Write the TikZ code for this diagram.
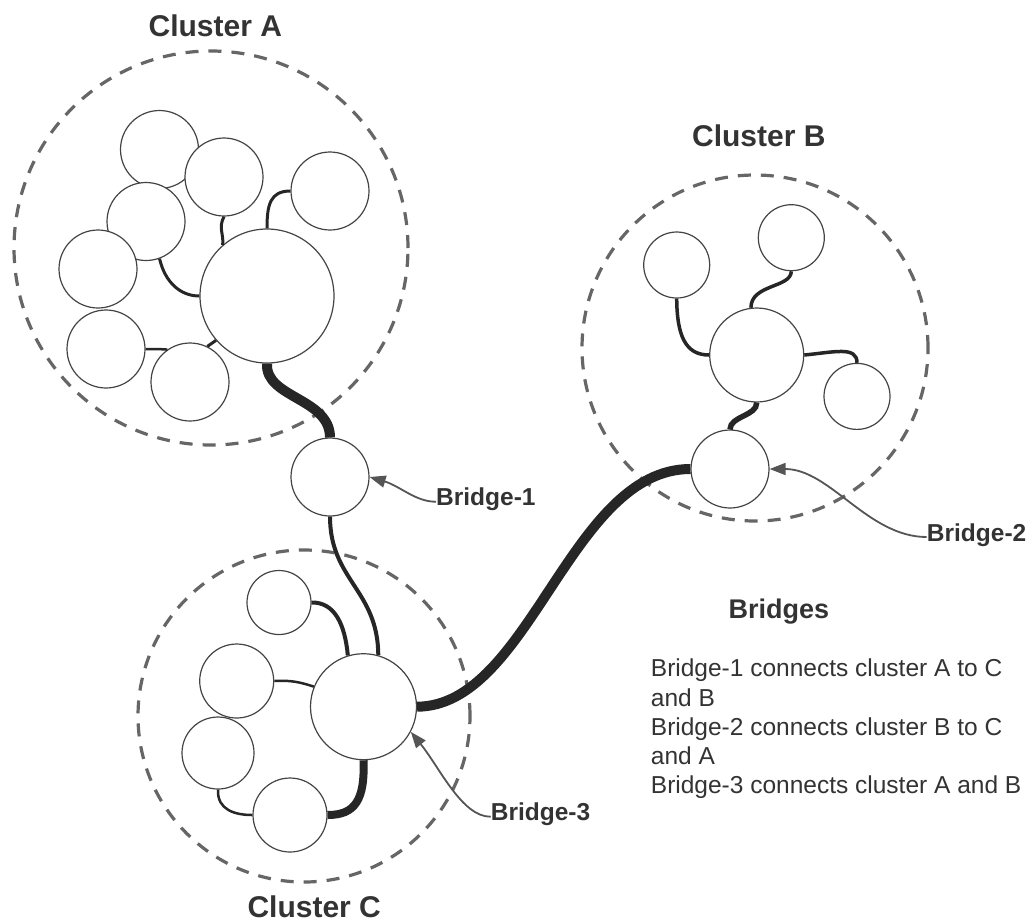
\documentclass[tikz,border=0pt]{standalone}
\usepackage{fontspec}
\setmainfont{Liberation Sans}
\usetikzlibrary{arrows.meta}
\definecolor{ink}{HTML}{333333}
\definecolor{dashgray}{HTML}{666666}
\definecolor{ringgray}{HTML}{444444}
\definecolor{linkcol}{HTML}{262626}
\definecolor{arrowgray}{HTML}{555555}
\begin{document}
\begin{tikzpicture}[x=1pt,y=-1pt,
  clusterring/.style={circle, draw=dashgray, line width=3.2pt, dash pattern=on 13pt off 10pt, inner sep=0pt, minimum size=#1},
  member/.style={circle, draw=ringgray, line width=1.2pt, fill=white, inner sep=0pt, minimum size=#1},
  link/.style={draw=linkcol, line width=#1},
  pointer/.style={draw=arrowgray, line width=1.8pt, -{Triangle[length=16pt,width=12pt]}},
  clusterlabel/.style={font=\fontsize{30}{36}\selectfont\bfseries, text=ink, anchor=base, inner sep=0pt},
  callout/.style={font=\fontsize{24.5}{29}\selectfont\bfseries, text=ink, anchor=base west, inner sep=0pt},
  heading/.style={font=\fontsize{27}{32}\selectfont\bfseries, text=ink, anchor=base west, inner sep=0pt},
  bodyline/.style={font=\fontsize{24.5}{29}\selectfont, text=ink, anchor=base west, inner sep=0pt}]
\useasboundingbox (0,0) rectangle (1027,922);

% dashed cluster boundaries
\node[clusterring=394pt] (ringA) at (211,248) {};
\node[clusterring=346pt] (ringB) at (755,348) {};
\node[clusterring=332pt] (ringC) at (304,716) {};

% cluster A members
\node[member=78pt]  (a1) at (159.5,149.5) {};
\node[member=78pt]  (a2) at (224,177) {};
\node[member=78pt]  (a3) at (330,191) {};
\node[member=78pt]  (a4) at (146,221.5) {};
\node[member=78pt]  (a5) at (98,269) {};
\node[member=134pt] (aHub) at (267,296) {};
\node[member=78pt]  (a6) at (106,349) {};
\node[member=78pt]  (a7) at (190,382) {};

% bridges
\node[member=78pt] (br1) at (330,477) {};
\node[member=78pt] (br2) at (730,469) {};

% cluster B members
\node[member=66pt] (b1) at (676.7,265) {};
\node[member=66pt] (b2) at (791.3,237.7) {};
\node[member=94pt] (bHub) at (756.7,355) {};
\node[member=66pt] (b3) at (857,396.4) {};

% cluster C members
\node[member=64pt]  (c1) at (279,602.5) {};
\node[member=74pt]  (c2) at (236.7,681) {};
\node[member=72pt]  (c3) at (218,753) {};
\node[member=74pt]  (c4) at (290,815) {};
\node[member=106pt] (cHub) at (363.5,706.7) {};

% links inside cluster A
\draw[link=3pt] (a2.south) .. controls (218,228) and (224,234) .. (aHub.131);
\draw[link=3pt] (a3.west) .. controls (270,191) and (267,205) .. (aHub.north);
\draw[link=3pt] (a4.-70) .. controls (165,282) and (180,296) .. (aHub.west);
\draw[link=2.5pt] (a6.east) .. controls (152,349) and (160,349) .. (a7.125);
\draw[link=3pt] (a7.64) -- (aHub.221);

% links inside cluster B
\draw[link=3.5pt] (b1.south) .. controls (677,335) and (685,355) .. (bHub.west);
\draw[link=3.5pt] (b2.south) .. controls (791,288) and (751,284) .. (bHub.97);
\draw[link=3.5pt] (bHub.east) .. controls (835,352) and (857,346) .. (b3.north);

% links inside cluster C
\draw[link=4pt] (c1.east) .. controls (335,602) and (345,625) .. (cHub.107);
\draw[link=2.5pt] (c2.east) .. controls (290,680) and (300,682) .. (cHub.158);
\draw[link=2.5pt] (c3.south) .. controls (217,810) and (235,815) .. (c4.west);
\draw[link=8pt] (cHub.south) .. controls (365,800) and (355,815) .. (c4.east);

% bridge connections
\draw[link=10pt] (aHub.south) .. controls (265,398) and (330,398) .. (br1.north);
\draw[link=4pt] (br1.south) .. controls (330,580) and (378,590) .. (cHub.74);
\draw[link=10pt] (cHub.east) .. controls (530,706) and (570,469) .. (br2.west);
\draw[link=5.5pt] (bHub.south) .. controls (757,416) and (730,416) .. (br2.north);

% cluster titles
\node[clusterlabel] (titleA) at (215.3,36) {Cluster A};
\node[clusterlabel] (titleB) at (758.8,146) {Cluster B};
\node[clusterlabel] (titleC) at (314.2,917) {Cluster C};

% bridge callouts
\node[callout] (lab1) at (436,505) {Bridge-1};
\node[callout] (lab2) at (926.7,541.7) {Bridge-2};
\node[callout] (lab3) at (490.7,820) {Bridge-3};
\coordinate (t1) at (436,501.7);
\coordinate (t2) at (926.7,537);
\coordinate (t3) at (490.7,816.7);
\draw[pointer] (t1) .. controls (416,502) and (400,486) .. (br1.east);
\draw[pointer] (t2) .. controls (868,537) and (830,469) .. (br2.east);
\draw[pointer] (t3) .. controls (462,817) and (440,768) .. (cHub.-28);

% legend
\node[heading] (legend) at (728.3,618.3) {Bridges};
\node[bodyline] (l1) at (650.7,676.7) {Bridge-1 connects cluster A to C};
\node[bodyline] (l2) at (650.7,706) {and B};
\node[bodyline] (l3) at (650.7,735.3) {Bridge-2 connects cluster B to C};
\node[bodyline] (l4) at (650.7,764.6) {and A};
\node[bodyline] (l5) at (650.7,793.9) {Bridge-3 connects cluster A and B};
\end{tikzpicture}
\end{document}
